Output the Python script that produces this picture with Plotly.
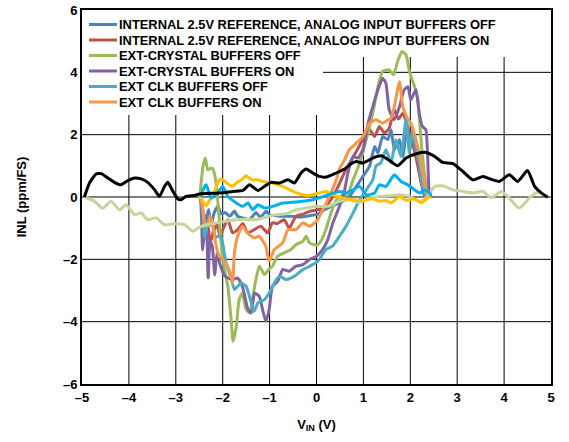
import plotly.graph_objects as go

# ---------------- data ----------------
blue_x = [-2.47,-2.43,-2.4,-2.36,-2.3,-2.25,-2.18,-2.1,-2.03,-1.95,-1.85,-1.75,-1.68,-1.57,-1.43,-1.29,-1.2,-1.07,-1.0,-0.79,-0.58,-0.36,-0.15,0.03,0.17,0.31,0.49,0.7,0.85,0.99,1.13,1.24,1.31,1.41,1.52,1.59,1.66,1.77,1.84,1.92,2.01,2.09,2.16,2.23,2.3]
blue_y = [0,-0.6,-1.4,-0.8,-0.4,-0.9,-0.5,-0.3,-0.55,-0.5,-0.62,-0.45,-0.62,-0.67,-0.73,-0.5,-0.65,-0.46,-0.57,-0.62,-0.62,-0.64,-0.6,-0.55,-0.41,-0.3,-0.19,0.02,0.34,0.66,0.98,1.62,1.41,1.94,1.84,2.16,1.52,1.84,1.3,2.05,1.62,1.9,1.2,0.5,0.05]

red_x = [-2.47,-2.42,-2.37,-2.32,-2.27,-2.2,-2.12,-2.05,-2.0,-1.89,-1.79,-1.68,-1.57,-1.47,-1.33,-1.19,-1.04,-0.94,-0.83,-0.69,-0.58,-0.44,-0.29,-0.15,0.03,0.15,0.3,0.45,0.6,0.75,0.9,1.0,1.13,1.24,1.34,1.45,1.55,1.66,1.75,1.84,1.92,1.98,2.07,2.16,2.24,2.3]
red_y = [0,-0.5,-1.3,-0.8,-1.5,-1.1,-0.9,-1.3,-1.05,-0.73,-1.15,-1.05,-0.85,-1.15,-1.05,-0.94,-1.15,-0.83,-0.85,-0.73,-1.0,-0.62,-0.55,-0.46,-0.41,-0.35,-0.1,0.3,0.8,1.2,1.6,1.9,2.16,1.94,2.26,2.05,2.21,2.8,2.5,2.69,2.4,2.05,1.6,1.0,0.4,0.05]

green_x = [-2.49,-2.42,-2.37,-2.32,-2.25,-2.21,-2.14,-2.07,-2.0,-1.89,-1.82,-1.78,-1.71,-1.65,-1.58,-1.5,-1.43,-1.32,-1.22,-1.11,-1.02,-0.94,-0.83,-0.69,-0.55,-0.44,-0.29,-0.22,-0.15,0.0,0.1,0.21,0.31,0.42,0.55,0.67,0.78,0.92,1.06,1.2,1.31,1.41,1.55,1.64,1.73,1.82,1.91,1.98,2.09,2.16,2.2,2.26,2.34,2.4]
green_y = [0,0.98,1.25,0.87,0.93,0.9,0.45,-0.8,-2.01,-2.87,-3.93,-4.63,-4.15,-3.29,-3.08,-3.61,-3.72,-2.87,-2.22,-2.49,-2.33,-2.22,-1.9,-1.79,-1.69,-1.53,-1.42,-1.26,-1.47,-1.55,-1.4,-1.0,-0.51,-0.1,0.05,0.1,0.55,1.09,1.84,2.69,3.54,4.03,4.08,3.92,4.35,4.67,4.56,4.03,3.54,3.12,2.37,1.3,0.34,0.02]

purple_x = [-2.47,-2.45,-2.43,-2.4,-2.37,-2.34,-2.31,-2.27,-2.22,-2.17,-2.12,-2.05,-1.97,-1.89,-1.79,-1.68,-1.58,-1.46,-1.39,-1.32,-1.22,-1.15,-1.08,-1.01,-0.94,-0.83,-0.72,-0.58,-0.44,-0.29,-0.15,0.0,0.13,0.24,0.35,0.49,0.6,0.67,0.78,0.88,0.99,1.1,1.2,1.31,1.41,1.48,1.55,1.66,1.77,1.87,1.95,2.01,2.12,2.19,2.26,2.33,2.37,2.4,2.44]
purple_y = [0,-0.7,-1.7,-1.2,-0.6,-1.0,-2.6,-1.4,-1.6,-2.5,-1.8,-2.2,-2.5,-2.6,-2.65,-2.6,-2.87,-3.61,-3.72,-3.08,-3.19,-3.61,-3.99,-3.61,-2.87,-2.71,-2.33,-2.38,-2.22,-2.17,-2.01,-1.9,-1.69,-1.37,-0.83,-0.3,0.23,0.77,1.3,1.25,1.52,2.37,2.9,3.44,3.81,3.65,2.8,2.48,2.9,3.44,3.54,3.12,3.44,2.69,2.26,2.16,1.3,0.23,0]

teal_x = [-2.47,-2.43,-2.38,-2.33,-2.27,-2.2,-2.15,-2.1,-2.03,-1.93,-1.82,-1.75,-1.61,-1.5,-1.39,-1.33,-1.25,-1.11,-1.01,-0.9,-0.79,-0.65,-0.47,-0.29,-0.08,0.06,0.2,0.34,0.49,0.63,0.78,0.92,1.06,1.2,1.27,1.37,1.48,1.59,1.69,1.8,1.87,1.91,1.98,2.05,2.12,2.19,2.26,2.33]
teal_y = [0,-0.5,-1.3,-0.9,-0.6,-1.0,-1.3,-1.26,-1.3,-2.12,-2.6,-2.97,-2.76,-2.87,-3.4,-3.67,-3.4,-3.29,-3.08,-2.76,-2.54,-2.65,-2.54,-2.33,-2.17,-2.01,-1.69,-1.58,-1.26,-0.94,-0.51,-0.09,0.23,0.55,1.0,1.09,1.52,1.09,1.84,1.3,2.05,2.58,1.41,2.16,1.52,1.09,0.34,0.02]

orange_x = [-2.47,-2.42,-2.37,-2.32,-2.27,-2.21,-2.15,-2.07,-1.93,-1.82,-1.79,-1.75,-1.68,-1.58,-1.47,-1.33,-1.22,-1.08,-1.01,-0.9,-0.72,-0.61,-0.44,-0.29,-0.15,0.0,0.1,0.21,0.31,0.42,0.49,0.6,0.7,0.85,0.99,1.13,1.27,1.41,1.5,1.59,1.66,1.77,1.84,1.92,2.01,2.12,2.23,2.3,2.34]
orange_y = [0,-0.41,-0.9,-0.94,-0.62,-0.9,-1.5,-1.9,-2.12,-2.54,-2.76,-1.79,-1.26,-0.94,-1.15,-1.31,-1.26,-1.58,-2.06,-1.69,-1.47,-1.05,-1.05,-0.83,-0.94,-0.78,-0.51,-0.19,0.13,0.55,0.9,1.2,1.52,1.73,1.94,2.37,2.48,2.37,2.45,2.53,2.9,3.7,2.9,2.58,2.37,1.84,1.09,0.45,0.13]

sage_x = [-4.95,-4.73,-4.56,-4.38,-4.2,-4.06,-3.88,-3.74,-3.6,-3.42,-3.24,-3.03,-2.81,-2.64,-2.49,-2.35,-2.14,-1.93,-1.71,-1.5,-1.29,-1.07,-0.86,-0.65,-0.43,-0.22,0.0,0.24,0.49,0.7,0.92,1.13,1.34,1.56,1.77,1.98,2.2,2.34,2.52,2.69,2.91,3.12,3.33,3.55,3.72,3.94,4.11,4.32,4.54,4.72,4.86]
sage_y = [0,-0.14,-0.36,-0.14,-0.41,-0.25,-0.57,-0.51,-0.73,-0.67,-0.89,-0.86,-0.89,-1.1,-0.97,-0.89,-0.83,-0.78,-0.73,-0.71,-0.73,-0.64,-0.57,-0.54,-0.41,-0.35,-0.3,-0.3,-0.14,-0.09,-0.17,-0.03,0.02,0.04,0.07,0.02,-0.14,-0.03,0.34,0.36,0.23,0.18,0.13,0.18,-0.03,0.18,-0.03,-0.36,-0.03,0.15,0.07]

yellow_x = [-2.49,-2.42,-2.35,-2.28,-2.21,-2.14,-2.07,-2.03,-1.93,-1.86,-1.78,-1.71,-1.6,-1.5,-1.43,-1.36,-1.25,-1.14,-1.03,-0.93,-0.83,-0.72,-0.6,-0.5,-0.4,-0.29,-0.18,-0.08,0.06,0.21,0.35,0.56,0.78,0.99,1.2,1.34,1.48,1.59,1.77,1.91,2.09,2.23,2.37,2.44]
yellow_y = [0.02,-0.15,-0.28,-0.1,0.0,0.34,0.55,0.58,0.47,0.39,0.35,0.45,0.55,0.68,0.6,0.55,0.55,0.5,0.47,0.45,0.4,0.34,0.25,0.18,0.12,0.07,0.05,0.07,0.13,0.18,0.07,-0.03,-0.09,-0.11,-0.06,-0.14,-0.11,-0.19,0.02,-0.11,-0.06,-0.19,-0.03,0.02]

cyan_x = [-2.46,-2.42,-2.35,-2.25,-2.11,-2.0,-1.89,-1.71,-1.57,-1.46,-1.36,-1.25,-1.11,-0.93,-0.72,-0.5,-0.29,-0.08,0.06,0.24,0.49,0.63,0.78,0.92,1.06,1.24,1.34,1.48,1.66,1.8,1.95,2.09,2.2,2.3,2.41,2.44]
cyan_y = [0.0,0.23,0.39,-0.03,0.13,0.34,0.02,-0.19,-0.3,-0.19,-0.41,-0.25,-0.35,-0.3,-0.19,-0.17,-0.14,-0.09,-0.03,0.07,0.18,0.13,0.23,0.34,0.07,0.13,0.39,0.34,0.71,0.5,0.39,0.23,0.13,0.23,0.13,0.05]

black_x = [-4.95,-4.84,-4.70,-4.59,-4.45,-4.31,-4.17,-4.02,-3.88,-3.74,-3.60,-3.45,-3.35,-3.24,-3.17,-3.06,-2.96,-2.89,-2.78,-2.6,-2.49,-2.07,-1.78,-1.57,-1.43,-1.25,-1.11,-0.97,-0.79,-0.61,-0.47,-0.33,-0.22,-0.08,0.06,0.21,0.42,0.60,0.74,0.85,0.99,1.2,1.38,1.56,1.73,1.91,2.13,2.34,2.52,2.69,2.91,3.12,3.33,3.55,3.76,3.9,4.11,4.29,4.5,4.65,4.79,4.93]
black_y = [0,0.45,0.74,0.75,0.61,0.47,0.39,0.53,0.61,0.58,0.47,0.23,0.02,0.34,0.47,0.18,-0.06,-0.09,0.02,0.05,0.1,0.13,0.18,0.21,0.39,0.21,0.34,0.47,0.45,0.55,0.45,0.77,0.9,0.77,0.66,0.64,0.77,0.9,1.07,1.14,1.09,1.25,1.32,1.17,1.0,1.25,1.39,1.43,1.3,1.11,1.07,0.82,0.55,0.66,0.55,0.5,0.71,0.5,0.85,0.34,0.13,-0.01]

legend_names = [
    "INTERNAL 2.5V REFERENCE, ANALOG INPUT BUFFERS OFF",
    "INTERNAL 2.5V REFERENCE, ANALOG INPUT BUFFERS ON",
    "EXT-CRYSTAL BUFFERS OFF",
    "EXT-CRYSTAL BUFFERS ON",
    "EXT CLK BUFFERS OFF",
    "EXT CLK BUFFERS ON",
]
legend_colors = ["#4F81BD", "#C0504D", "#9BBB59", "#8064A2", "#4BACC6", "#F79646"]

x_ticks = [-5, -4, -3, -2, -1, 0, 1, 2, 3, 4, 5]
y_ticks = [-6, -4, -2, 0, 2, 4, 6]

def lab(v):
    return ("\u2013" + str(abs(v))) if v < 0 else str(v)

# ---------------- figure ----------------
FONT = "Liberation Sans, Arial, sans-serif"
fig = go.Figure()

series = [
    (blue_x, blue_y, legend_colors[0]),
    (red_x, red_y, legend_colors[1]),
    (green_x, green_y, legend_colors[2]),
    (purple_x, purple_y, legend_colors[3]),
    (teal_x, teal_y, legend_colors[4]),
    (orange_x, orange_y, legend_colors[5]),
    (sage_x, sage_y, "#C3D69B"),
    (yellow_x, yellow_y, "#FFC000"),
    (cyan_x, cyan_y, "#00B0F0"),
    (black_x, black_y, "#000000"),
]
for xs, ys, c in series:
    fig.add_trace(go.Scatter(x=xs, y=ys, mode="lines",
                             line=dict(color=c, width=3, shape="spline", smoothing=0.5),
                             showlegend=False, hoverinfo="skip"))

# the page body margin is removed by a post script, so page pixels == figure pixels
W, H = 569, 442
PL, PR, PT, PB = 82, 551, 10, 384          # plot-area edges in page pixels
L, R, T, B = PL, W - PR, PT, H - PB
pw, ph = PR - PL, PB - PT

def px_x(p):
    return (p - PL) / pw

def px_y(p):
    return 1 - (p - PT) / ph

def dy(p):
    return 6 - 12 * (p - PT) / ph

def dx(p):
    return -5 + 10 * (p - PL) / pw

shapes = []
grid = dict(color="black", width=1)
for v in x_ticks[1:-1]:
    top = dy(57) if v >= 1 else dy(115)
    shapes.append(dict(type="line", xref="x", yref="y", x0=v, x1=v, y0=-6, y1=top,
                       line=grid, layer="below"))
for v in y_ticks[1:-1]:
    left = dx(323) if v == 4 else -5
    shapes.append(dict(type="line", xref="x", yref="y", x0=left, x1=5, y0=v, y1=v,
                       line=grid, layer="below"))

annotations = []
row0, step = 24.5, 15.5
for i, (name, c) in enumerate(zip(legend_names, legend_colors)):
    yc = row0 + i * step
    shapes.append(dict(type="line", xref="paper", yref="paper",
                       x0=px_x(89), x1=px_x(117), y0=px_y(yc), y1=px_y(yc),
                       line=dict(color=c, width=3), layer="above"))
    annotations.append(dict(text="<b>" + name + "</b>", xref="paper", yref="paper",
                            x=px_x(117), y=px_y(yc), xanchor="left", yanchor="middle",
                            showarrow=False,
                            font=dict(family=FONT, size=12.9, color="black")))

fig.update_layout(
    width=W, height=H,
    margin=dict(l=L, r=R, t=T, b=B, autoexpand=False),
    paper_bgcolor="white", plot_bgcolor="white",
    shapes=shapes, annotations=annotations,
    showlegend=False,
    font=dict(family=FONT, color="black"),
)
fig.update_xaxes(
    range=[-5, 5], tickvals=x_ticks, ticktext=["<b>" + lab(v) + "</b>" for v in x_ticks],
    showgrid=False, zeroline=False, automargin=False, ticklabeloverflow="allow",
    showline=True, linecolor="black", linewidth=2, mirror=True, ticks="",
    tickfont=dict(family=FONT, size=13, color="black"),
    title=dict(text="<b>V<sub>IN</sub> (V)</b>", standoff=16,
               font=dict(family=FONT, size=13, color="black")),
)
fig.update_yaxes(
    range=[-6, 6], tickvals=y_ticks, ticktext=["<b>" + lab(v) + "</b>" for v in y_ticks],
    showgrid=False, zeroline=False, automargin=False, ticklabeloverflow="allow",
    showline=True, linecolor="black", linewidth=2, mirror=True, ticks="",
    tickfont=dict(family=FONT, size=13, color="black"),
    title=dict(text="<b>INL (ppm/FS)</b>", standoff=33,
               font=dict(family=FONT, size=13, color="black")),
)

fig.write_html("out.html", config={"displayModeBar": False},
               post_script="document.body.style.margin='0px';")
